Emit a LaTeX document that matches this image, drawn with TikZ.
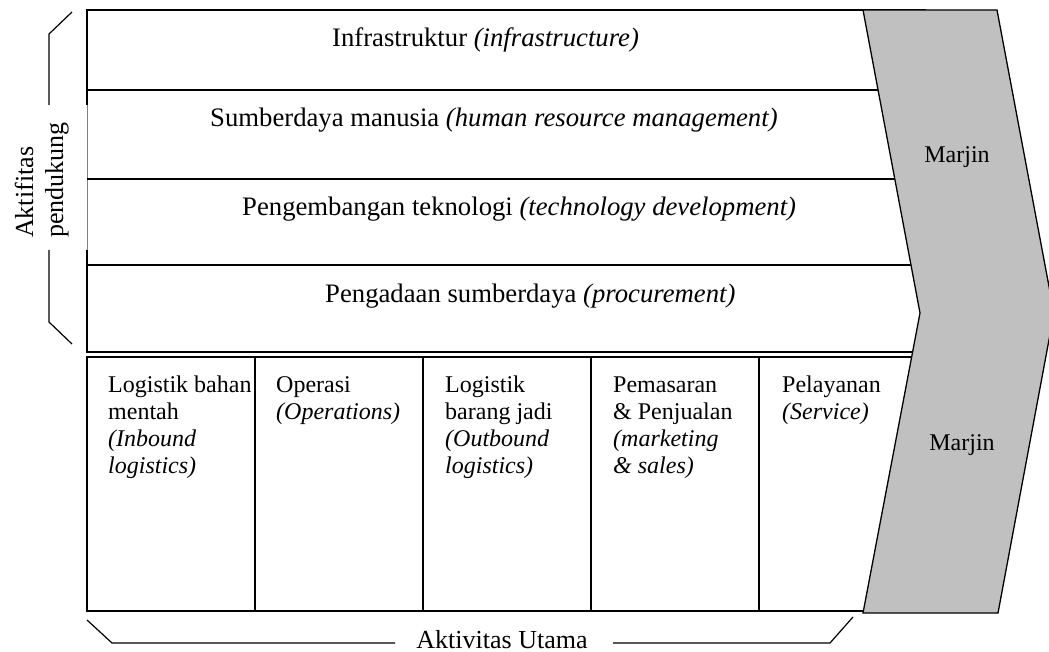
\documentclass[tikz,border=0pt]{standalone}
\usepackage{fontspec}
\setmainfont{Liberation Serif}
\definecolor{margin}{RGB}{192,192,192}
\newcommand{\coltext}[1]{\begin{tabular}[t]{@{}l@{}}#1\end{tabular}}
\begin{document}
\begin{tikzpicture}[x=1pt,y=-1pt,
  boxline/.style={line width=1.7pt, line join=miter},
  sepline/.style={line width=1.7pt},
  brline/.style={line width=1.2pt},
  chev/.style={line width=1.3pt, fill=margin, draw=black, line join=miter},
  rowtxt/.style={inner sep=0pt, anchor=base west, font=\fontsize{26.7}{30}\selectfont},
  coltxt/.style={inner sep=0pt, anchor=base west, font=\fontsize{24}{27}\selectfont},
  lbl/.style={inner sep=0pt, font=\fontsize{26}{30}\selectfont},
  mtxt/.style={inner sep=0pt, font=\fontsize{24}{28}\selectfont}]
\useasboundingbox (0,0) rectangle (1049,652);
\clip (0,0) rectangle (1049,652);
\fill[white] (0,0) rectangle (1049,652);

% support activities block
\draw[boxline] (87,105) -- (87,10) -- (925,10) -- (925,352) -- (87,352) -- (87,250);
\draw[line width=0.4pt, gray] (87,105) -- (87,250);
\draw[sepline] (87,90) -- (925,90);
\draw[sepline] (87,179) -- (925,179);
\draw[sepline] (87,265) -- (925,265);

% primary activities block
\draw[boxline] (87,357) rectangle (925,611);
\foreach \xx in {255,423,591,759} \draw[sepline] (\xx,357) -- (\xx,611);

% margin chevron
\filldraw[chev] (863,10) -- (997,10) -- (1054,313) -- (998,613) -- (863,613) -- (920,313) -- cycle;
\node[mtxt] (m1) at (957,157) {Marjin};
\node[mtxt] (m2) at (962,445) {Marjin};

% support row texts
\node[rowtxt] (r1) at (332,47) {Infrastruktur \textit{(infrastructure)}};
\node[rowtxt] (r2) at (210,127) {Sumberdaya manusia \textit{(human resource management)}};
\node[rowtxt] (r3) at (242,216) {Pengembangan teknologi \textit{(technology development)}};
\node[rowtxt] (r4) at (325,302) {Pengadaan sumberdaya \textit{(procurement)}};

% primary column texts
\node[coltxt] (c1) at (108,392) {\coltext{Logistik bahan\\mentah\\\textit{(Inbound}\\\textit{logistics)}}};
\node[coltxt] (c2) at (276,392) {\coltext{Operasi\\\textit{(Operations)}}};
\node[coltxt] (c3) at (445,392) {\coltext{Logistik\\barang jadi\\\textit{(Outbound}\\\textit{logistics)}}};
\node[coltxt] (c4) at (613,392) {\coltext{Pemasaran\\\& Penjualan\\\textit{(marketing}\\\textit{\& sales)}}};
\node[coltxt] (c5) at (782,392) {\coltext{Pelayanan\\\textit{(Service)}}};

% left bracket and label
\node[lbl, rotate=90, anchor=base west] (a1) at (33,238) {Aktifitas};
\node[lbl, rotate=90, anchor=base west] (a2) at (63,238) {pendukung};
\coordinate (bt1) at (72,12);
\coordinate (bt2) at (49,34);
\coordinate (bt3) at (49,105);
\coordinate (bb1) at (49,250);
\coordinate (bb2) at (49,322);
\coordinate (bb3) at (72,344);
\draw[brline] (bt1) -- (bt2) -- (bt3);
\draw[brline] (bb1) -- (bb2) -- (bb3);

% bottom bracket and label
\node[lbl, anchor=base] (u) at (502,648) {Aktivitas Utama};
\coordinate (ul1) at (87,620);
\coordinate (ul2) at (112,643);
\coordinate (ul3) at (395,643);
\coordinate (ur1) at (613,643);
\coordinate (ur2) at (830,643);
\coordinate (ur3) at (853,617);
\draw[brline] (ul1) -- (ul2) -- (ul3);
\draw[brline] (ur1) -- (ur2) -- (ur3);
\end{tikzpicture}
\end{document}
